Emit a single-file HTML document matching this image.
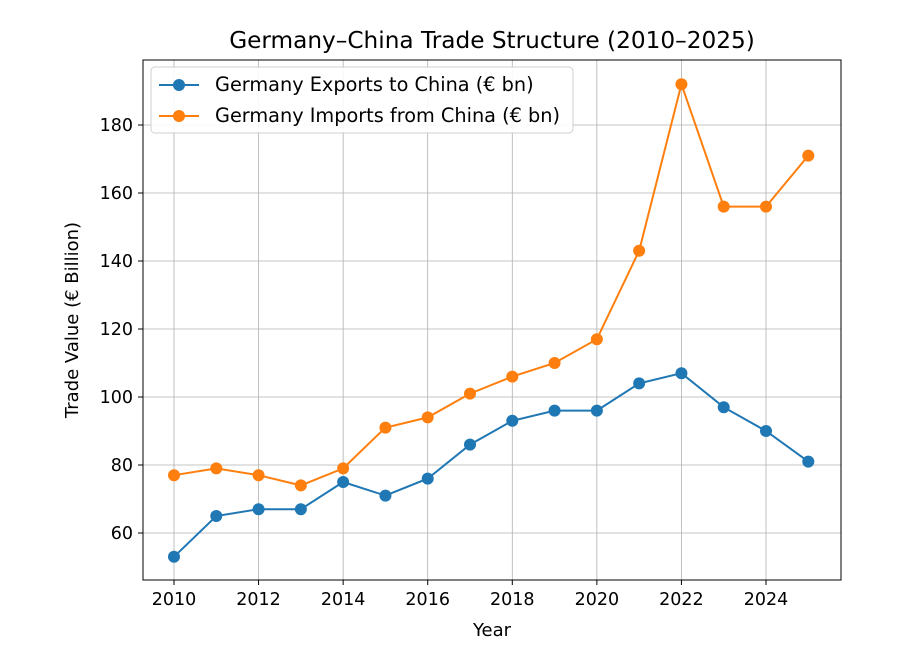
<!DOCTYPE html>
<html><head><meta charset="utf-8"><style>body{margin:0;background:#fff}svg{display:block}text{font-family:"DejaVu Sans","Liberation Sans",sans-serif;fill:#000}</style></head>
<body>
<svg width="923" height="654" xmlns="http://www.w3.org/2000/svg">
<rect width="923" height="654" fill="#fff"/>
<g stroke="#b0b0b0" stroke-width="0.8">
<line x1="174" y1="60" x2="174" y2="580"/><line x1="258.57" y1="60" x2="258.57" y2="580"/><line x1="343.14" y1="60" x2="343.14" y2="580"/><line x1="427.71" y1="60" x2="427.71" y2="580"/><line x1="512.29" y1="60" x2="512.29" y2="580"/><line x1="596.86" y1="60" x2="596.86" y2="580"/><line x1="681.43" y1="60" x2="681.43" y2="580"/><line x1="766" y1="60" x2="766" y2="580"/>
<line x1="143" y1="533" x2="841" y2="533"/><line x1="143" y1="465" x2="841" y2="465"/><line x1="143" y1="397" x2="841" y2="397"/><line x1="143" y1="329" x2="841" y2="329"/><line x1="143" y1="261" x2="841" y2="261"/><line x1="143" y1="193" x2="841" y2="193"/><line x1="143" y1="125" x2="841" y2="125"/>
</g>
<rect x="143" y="60" width="698" height="520" fill="none" stroke="#000" stroke-width="1"/>
<g stroke="#000">
<line x1="174" y1="580" x2="174" y2="585"/><line x1="258.57" y1="580" x2="258.57" y2="585"/><line x1="343.14" y1="580" x2="343.14" y2="585"/><line x1="427.71" y1="580" x2="427.71" y2="585"/><line x1="512.29" y1="580" x2="512.29" y2="585"/><line x1="596.86" y1="580" x2="596.86" y2="585"/><line x1="681.43" y1="580" x2="681.43" y2="585"/><line x1="766" y1="580" x2="766" y2="585"/>
<line x1="138" y1="533" x2="143" y2="533"/><line x1="138" y1="465" x2="143" y2="465"/><line x1="138" y1="397" x2="143" y2="397"/><line x1="138" y1="329" x2="143" y2="329"/><line x1="138" y1="261" x2="143" y2="261"/><line x1="138" y1="193" x2="143" y2="193"/><line x1="138" y1="125" x2="143" y2="125"/>
</g>
<g font-size="17.5" text-anchor="middle">
<text x="174" y="605">2010</text><text x="258.57" y="605">2012</text><text x="343.14" y="605">2014</text><text x="427.71" y="605">2016</text><text x="512.29" y="605">2018</text><text x="596.86" y="605">2020</text><text x="681.43" y="605">2022</text><text x="766" y="605">2024</text>
</g>
<g font-size="17.5" text-anchor="end">
<text x="133" y="539">60</text><text x="133" y="471">80</text><text x="133" y="403">100</text><text x="133" y="335">120</text><text x="133" y="267">140</text><text x="133" y="199">160</text><text x="133" y="131">180</text>
</g>
<polyline fill="none" stroke="#1f77b4" stroke-width="2" points="174,556.8 216.29,516 258.57,509.2 300.86,509.2 343.14,482 385.43,495.6 427.71,478.6 470,444.6 512.29,420.8 554.57,410.6 596.86,410.6 639.14,383.4 681.43,373.2 723.71,407.2 766,431 808.29,461.6"/>
<g fill="#1f77b4"><circle cx="174" cy="556.8" r="6"/><circle cx="216.29" cy="516" r="6"/><circle cx="258.57" cy="509.2" r="6"/><circle cx="300.86" cy="509.2" r="6"/><circle cx="343.14" cy="482" r="6"/><circle cx="385.43" cy="495.6" r="6"/><circle cx="427.71" cy="478.6" r="6"/><circle cx="470" cy="444.6" r="6"/><circle cx="512.29" cy="420.8" r="6"/><circle cx="554.57" cy="410.6" r="6"/><circle cx="596.86" cy="410.6" r="6"/><circle cx="639.14" cy="383.4" r="6"/><circle cx="681.43" cy="373.2" r="6"/><circle cx="723.71" cy="407.2" r="6"/><circle cx="766" cy="431" r="6"/><circle cx="808.29" cy="461.6" r="6"/></g>
<polyline fill="none" stroke="#ff7f0e" stroke-width="2" points="174,475.2 216.29,468.4 258.57,475.2 300.86,485.4 343.14,468.4 385.43,427.6 427.71,417.4 470,393.6 512.29,376.6 554.57,363 596.86,339.2 639.14,250.8 681.43,84.2 723.71,206.6 766,206.6 808.29,155.6"/>
<g fill="#ff7f0e"><circle cx="174" cy="475.2" r="6"/><circle cx="216.29" cy="468.4" r="6"/><circle cx="258.57" cy="475.2" r="6"/><circle cx="300.86" cy="485.4" r="6"/><circle cx="343.14" cy="468.4" r="6"/><circle cx="385.43" cy="427.6" r="6"/><circle cx="427.71" cy="417.4" r="6"/><circle cx="470" cy="393.6" r="6"/><circle cx="512.29" cy="376.6" r="6"/><circle cx="554.57" cy="363" r="6"/><circle cx="596.86" cy="339.2" r="6"/><circle cx="639.14" cy="250.8" r="6"/><circle cx="681.43" cy="84.2" r="6"/><circle cx="723.71" cy="206.6" r="6"/><circle cx="766" cy="206.6" r="6"/><circle cx="808.29" cy="155.6" r="6"/></g>
<text x="492" y="48" font-size="23.2" text-anchor="middle">Germany–China Trade Structure (2010–2025)</text>
<text x="492" y="636" font-size="18" text-anchor="middle">Year</text>
<text x="78" y="320" font-size="18" text-anchor="middle" transform="rotate(-90 78 320)">Trade Value (€ Billion)</text>
<rect x="151" y="67" width="422" height="66" rx="4" fill="#fff" stroke="#ccc" opacity="0.9"/>
<line x1="159" y1="85" x2="199" y2="85" stroke="#1f77b4" stroke-width="2"/><circle cx="179" cy="85" r="6" fill="#1f77b4"/>
<text x="215" y="91" font-size="19.3">Germany Exports to China (€ bn)</text>
<line x1="159" y1="116" x2="199" y2="116" stroke="#ff7f0e" stroke-width="2"/><circle cx="179" cy="116" r="6" fill="#ff7f0e"/>
<text x="215" y="122" font-size="19.3">Germany Imports from China (€ bn)</text>
</svg>
</body></html>
